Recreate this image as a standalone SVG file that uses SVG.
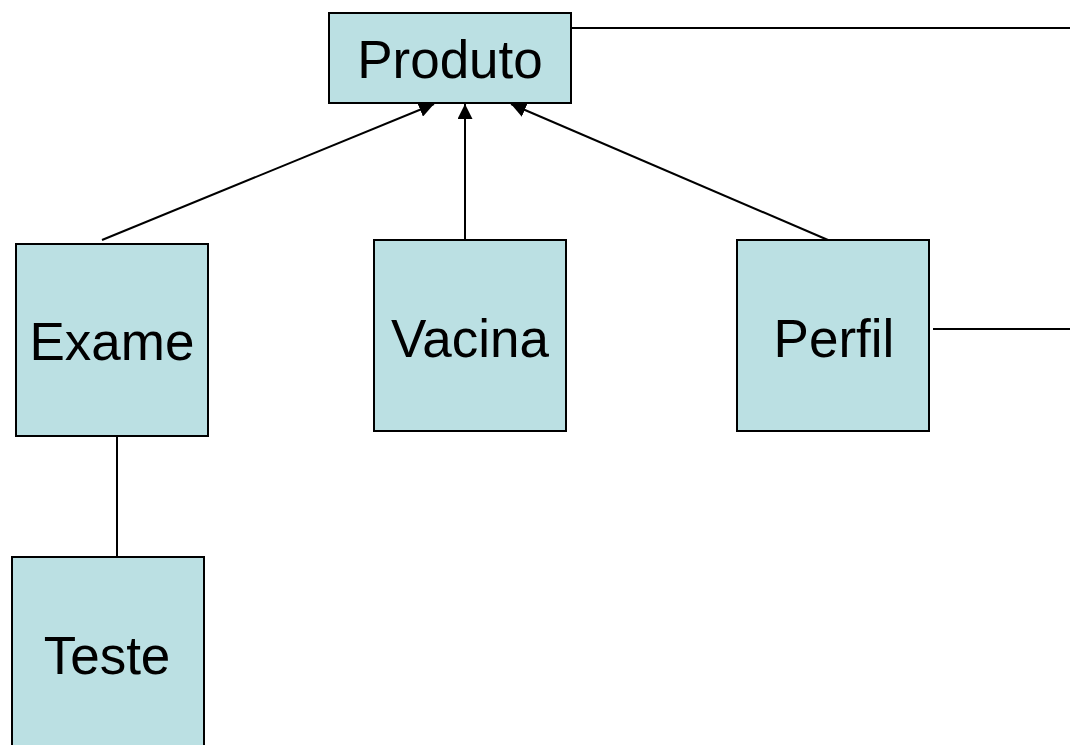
<svg xmlns="http://www.w3.org/2000/svg" width="1070" height="745" viewBox="0 0 1070 745">
<style>
.box{fill:#BBE0E3;stroke:#000;stroke-width:2}
.lbl{font-family:"Liberation Sans",Arial,sans-serif;font-size:53px;fill:#000;text-anchor:middle}
.ln{stroke:#000;stroke-width:2;fill:none}
</style>
<defs>
<marker id="arr" viewBox="0 0 12 12" refX="12" refY="6" markerWidth="15" markerHeight="15" markerUnits="userSpaceOnUse" orient="auto">
<path d="M0,0 L12,6 L0,12 Z" fill="#000"/>
</marker>
</defs>
<g id="connectors">
<line class="ln" x1="102" y1="240" x2="434" y2="104" marker-end="url(#arr)"/>
<line class="ln" x1="465" y1="240" x2="465" y2="104" marker-end="url(#arr)"/>
<line class="ln" x1="828" y1="240" x2="511" y2="104" marker-end="url(#arr)"/>
<line class="ln" x1="117" y1="436" x2="117" y2="557"/>
<line class="ln" x1="571" y1="28" x2="1070" y2="28"/>
<line class="ln" x1="933" y1="329" x2="1070" y2="329"/>
</g>
<g id="produto">
<rect class="box" x="329" y="13" width="242" height="90"/>
<text class="lbl" x="450" y="78">Produto</text>
</g>
<g id="exame">
<rect class="box" x="16" y="244" width="192" height="192"/>
<text class="lbl" x="112" y="360">Exame</text>
</g>
<g id="vacina">
<rect class="box" x="374" y="240" width="192" height="191"/>
<text class="lbl" x="470" y="357">Vacina</text>
</g>
<g id="perfil">
<rect class="box" x="737" y="240" width="192" height="191"/>
<text class="lbl" x="834" y="357">Perfil</text>
</g>
<g id="teste">
<rect class="box" x="12" y="557" width="192" height="200"/>
<text class="lbl" x="107" y="674">Teste</text>
</g>
</svg>
